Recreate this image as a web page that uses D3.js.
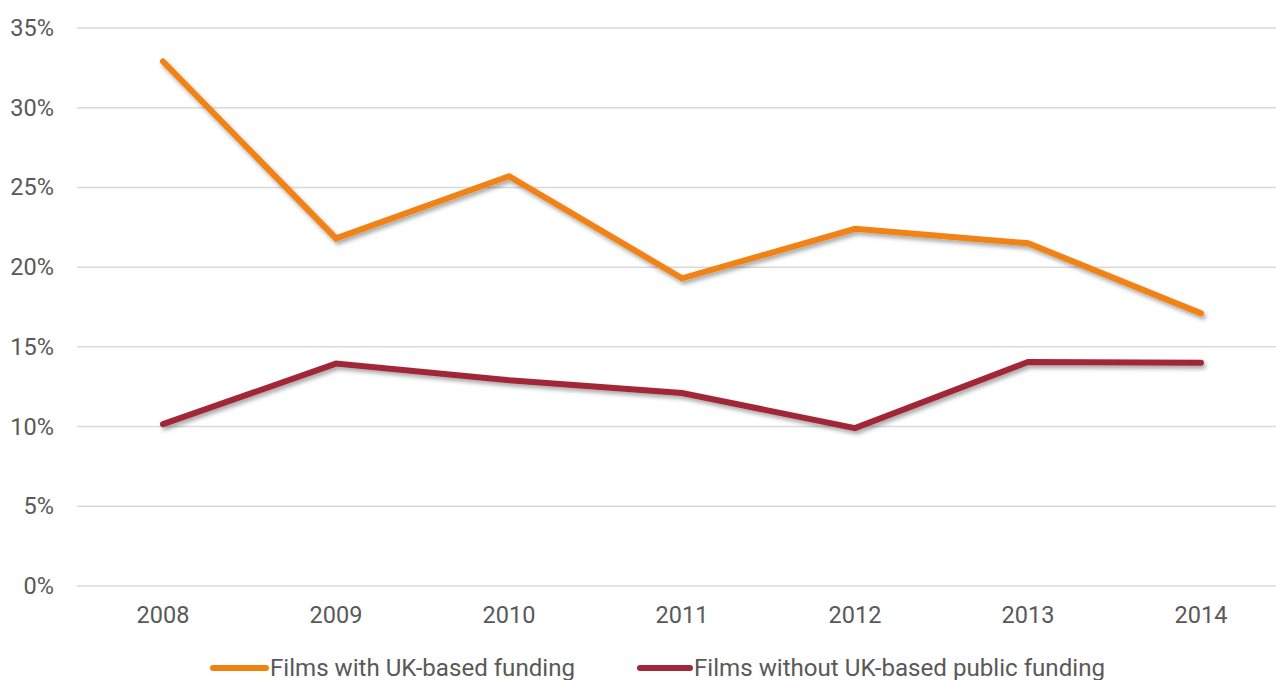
<!DOCTYPE html>
<html><head><meta charset="utf-8">
<script src="https://cdn.jsdelivr.net/npm/d3@7"></script>
<style>body{margin:0;background:#fff}svg{display:block;font-family:Roboto,"Liberation Sans",sans-serif}</style>
</head><body><svg id="c" width="1276" height="680"></svg>
<script>
const years = ["2008","2009","2010","2011","2012","2013","2014"];
const withFunding = [32.9, 21.8, 25.7, 19.3, 22.4, 21.5, 17.1];
const withoutFunding = [10.15, 13.95, 12.9, 12.1, 9.9, 14.05, 14.0];
const yTicks = [0,5,10,15,20,25,30,35];
const seriesNames = ["Films with UK-based funding","Films without UK-based public funding"];
const colors = ["#F08212","#A12838"];

const svg = d3.select("#c");
const W = 1276;
const x = d3.scaleBand().domain(years).range([76.5, 1287.5]);
const y = d3.scaleLinear().domain([0,35]).range([586, 28]);

const defs = svg.append("defs");
const f = defs.append("filter").attr("id","sh").attr("x","-10%").attr("y","-10%").attr("width","130%").attr("height","140%");
f.append("feDropShadow").attr("dx",2).attr("dy",3).attr("stdDeviation",2.2).attr("flood-color","#000").attr("flood-opacity",0.35);

// gridlines
svg.append("g").selectAll("line").data(yTicks).join("line")
  .attr("x1",77).attr("x2",W).attr("y1",d=>y(d)).attr("y2",d=>y(d))
  .attr("stroke","#d9d9d9").attr("stroke-width",1.5);

// y labels
const ya = svg.append("g").attr("transform","translate(54,0)")
  .call(d3.axisLeft(y).tickValues(yTicks).tickFormat(d=>d+"%").tickSize(0).tickPadding(0));
ya.select(".domain").remove();
ya.selectAll("text").attr("font-size",23.5).attr("fill","#595959").attr("font-family","Roboto");

// x labels
const xa = svg.append("g").attr("transform","translate(0,606)")
  .call(d3.axisBottom(x).tickSize(0).tickPadding(0));
xa.select(".domain").remove();
xa.selectAll("text").attr("font-size",23.5).attr("fill","#595959").attr("font-family","Roboto").attr("dy","0.71em");

const line = d3.line().x((d,i)=>x(years[i])+x.bandwidth()/2).y(d=>y(d));
[withFunding, withoutFunding].forEach((s,i)=>{
  svg.append("path").datum(s).attr("d",line).attr("fill","none")
    .attr("stroke",colors[i]).attr("stroke-width",6).attr("stroke-linecap","round").attr("stroke-linejoin","miter")
    .attr("filter","url(#sh)");
});

// legend
const leg = [{x:213,tx:270,w:305},{x:640,tx:694,w:411}];
seriesNames.forEach((n,i)=>{
  svg.append("line").attr("x1",leg[i].x).attr("x2",leg[i].tx-4).attr("y1",668).attr("y2",668)
    .attr("stroke",colors[i]).attr("stroke-width",6).attr("stroke-linecap","round");
  svg.append("text").attr("x",leg[i].tx).attr("y",676).text(n)
    .attr("font-size",23).attr("fill","#595959").attr("textLength",leg[i].w).attr("lengthAdjust","spacingAndGlyphs");
});
</script></body></html>
